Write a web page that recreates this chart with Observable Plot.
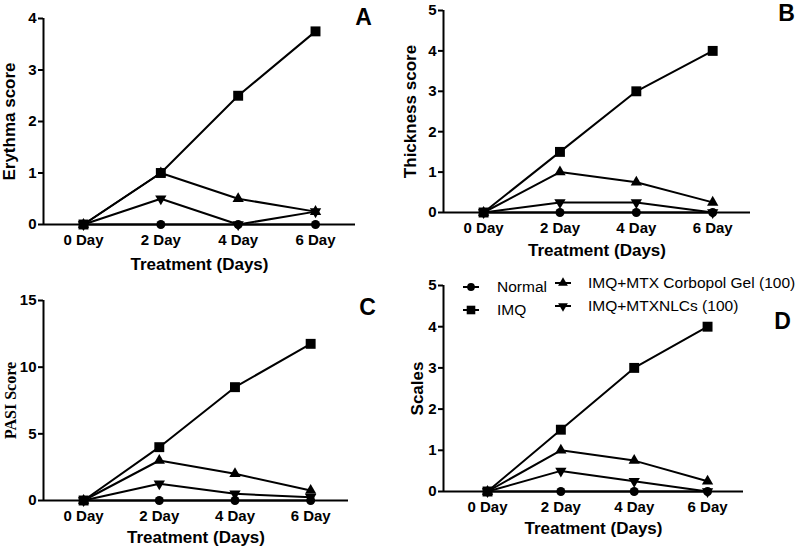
<!DOCTYPE html>
<html><head><meta charset="utf-8">
<script src="https://cdn.jsdelivr.net/npm/d3@7"></script>
<script src="https://cdn.jsdelivr.net/npm/@observablehq/plot@0.6"></script>
<style>
body{margin:0;background:#fff;}
#fig{position:relative;width:800px;height:549px;overflow:hidden;font-family:"Liberation Sans",Arial,sans-serif;background:#fff;}
.panel{position:absolute;}
.legsym{position:absolute;}
.legtxt{position:absolute;font-size:15.5px;color:#000;white-space:nowrap;line-height:18px;transform:translateY(-50%);}
</style></head><body><div id="fig"></div>
<script>
// ---- data ----
const days = [0, 2, 4, 6];
const dayLabels = ["0 Day", "2 Day", "4 Day", "6 Day"];
const seriesNames = ["Normal", "IMQ", "IMQ+MTX Corbopol Gel (100)", "IMQ+MTXNLCs (100)"];
// rows follow seriesNames order, columns follow days
const erythmaScore   = [[0,0,0,0],[0,1,2.5,3.75],[0,1,0.5,0.25],[0,0.5,0,0.25]];
const thicknessScore = [[0,0,0,0],[0,1.5,3,4],[0,1,0.75,0.25],[0,0.25,0.25,0]];
const pasiScore      = [[0,0,0,0],[0,4,8.5,11.75],[0,3,2,0.75],[0,1.25,0.5,0.25]];
const scalesScore    = [[0,0,0,0],[0,1.5,3,4],[0,1,0.75,0.25],[0,0.5,0.25,0]];
const yTicksA = [0,1,2,3,4];
const yTicksB = [0,1,2,3,4,5];
const yTicksC = [0,5,10,15];
const yTicksD = [0,1,2,3,4,5];
const yTitles = ["Erythma score", "Thickness score", "PASI Score", "Scales"];
const xTitle = "Treatment (Days)";
const panelLetters = ["A", "B", "C", "D"];

// ---- symbols ----
const sqrt3 = Math.sqrt(3);
const triangleDown = {
  draw(context, size) {
    const y = -Math.sqrt(size / (sqrt3 * 3));
    context.moveTo(0, -y * 2);
    context.lineTo(-sqrt3 * y, y);
    context.lineTo(sqrt3 * y, y);
    context.closePath();
  }
};
const symbols = [d3.symbolCircle, d3.symbolSquare, d3.symbolTriangle, triangleDown];
const radii = [4.5, 5.6, 4.2, 4.2];

const fig = document.getElementById("fig");

function makePanel(cfg) {
  const rows = [];
  seriesNames.forEach((s, i) => days.forEach((d, j) => rows.push({series: s, idx: i, day: d, value: cfg.values[i][j]})));
  const marks = [
    Plot.ruleY([0], {strokeWidth: 2}),
    Plot.ruleX([cfg.xDomain[0]], {strokeWidth: 2}),
    Plot.axisY({ticks: cfg.yTicks, tickSize: 5, tickPadding: 2, strokeWidth: 2, label: null, tickFormat: d => String(d)}),
    Plot.axisX({ticks: days, tickSize: 0, tickPadding: 10, label: null, tickFormat: d => dayLabels[days.indexOf(d)]}),
    Plot.line(rows, {x: "day", y: "value", z: "series", stroke: "black", strokeWidth: 2}),
    ...symbols.map((sym, i) => Plot.dot(rows.filter(r => r.idx === i), {x: "day", y: "value", symbol: sym, r: radii[i], fill: "black", stroke: "none"})),
    Plot.text([cfg.yTitle], {text: d => d, frameAnchor: "left", rotate: -90, dx: cfg.yTitleDx, textAnchor: "middle", lineAnchor: "middle", fontSize: cfg.yTitleSize, fontWeight: "bold", fontFamily: cfg.yTitleFont}),
    Plot.text([xTitle], {text: d => d, frameAnchor: "bottom", dy: cfg.xTitleDy, textAnchor: "middle", lineAnchor: "middle", fontSize: 17, fontWeight: "bold"}),
    Plot.text([cfg.letter], {text: d => d, frameAnchor: "top-right", dx: cfg.letterDx, dy: cfg.letterDy, textAnchor: "middle", lineAnchor: "middle", fontSize: 23, fontWeight: "bold"})
  ];
  const svg = Plot.plot({
    width: cfg.width, height: cfg.height,
    marginLeft: cfg.ml, marginRight: cfg.mr, marginTop: cfg.mt, marginBottom: cfg.mb,
    x: {domain: cfg.xDomain},
    y: {domain: cfg.yDomain},
    style: {fontFamily: "'Liberation Sans', Arial, sans-serif", fontSize: "15px", fontWeight: "bold", color: "black", background: "transparent", overflow: "visible"},
    marks
  });
  svg.classList.add("panel");
  svg.style.left = cfg.left + "px";
  svg.style.top = cfg.top + "px";
  svg.style.position = "absolute";
  fig.appendChild(svg);
}

const sansFont = "'Liberation Sans', Arial, sans-serif";
makePanel({values: erythmaScore, yTicks: yTicksA, yDomain: [0,4], xDomain: [-1.034, 7.034],
  left: 0, top: 0, width: 400, height: 275, ml: 43, mr: 45, mt: 18, mb: 51,
  yTitle: yTitles[0], yTitleDx: -34, yTitleSize: 17, yTitleFont: sansFont, xTitleDy: 40,
  letter: panelLetters[0], letterDx: 8, letterDy: -1});
makePanel({values: thicknessScore, yTicks: yTicksB, yDomain: [0,5], xDomain: [-1.05, 6.99],
  left: 400, top: 0, width: 400, height: 275, ml: 43, mr: 50, mt: 10, mb: 63,
  yTitle: yTitles[1], yTitleDx: -33, yTitleSize: 17, yTitleFont: sansFont, xTitleDy: 38,
  letter: panelLetters[1], letterDx: 36, letterDy: 3});
makePanel({values: pasiScore, yTicks: yTicksC, yDomain: [0,15], xDomain: [-1.06, 7.0],
  left: 0, top: 275, width: 400, height: 274, ml: 43, mr: 52, mt: 25, mb: 49,
  yTitle: yTitles[2], yTitleDx: -33, yTitleSize: 16, yTitleFont: "'Liberation Serif', 'Times New Roman', serif", xTitleDy: 37,
  letter: panelLetters[2], letterDx: 19, letterDy: 7});
makePanel({values: scalesScore, yTicks: yTicksD, yDomain: [0,5], xDomain: [-1.2, 6.98],
  left: 400, top: 275, width: 400, height: 274, ml: 43, mr: 57, mt: 10, mb: 58,
  yTitle: yTitles[3], yTitleDx: -26, yTitleSize: 17, yTitleFont: sansFont, xTitleDy: 37,
  letter: panelLetters[3], letterDx: 39, letterDy: 36});

// ---- legend (inside panel D) ----
const legendLayout = [
  {mx: 471, my: 287, tx: 497},
  {mx: 471, my: 310, tx: 497},
  {mx: 563, my: 283, tx: 588},
  {mx: 563, my: 306, tx: 588}
];
const legendSizes = radii.map(r => r * r * Math.PI * 0.75);
seriesNames.forEach((name, i) => {
  const L = legendLayout[i];
  const w = 18, h = 14;
  const s = d3.create("svg").attr("class", "legsym").attr("width", w).attr("height", h)
    .style("left", (L.mx - w / 2) + "px").style("top", (L.my - h / 2) + "px");
  s.append("line").attr("x1", 1).attr("x2", w - 1).attr("y1", h / 2).attr("y2", h / 2).attr("stroke", "black").attr("stroke-width", 2);
  s.append("path").attr("d", d3.symbol(symbols[i], legendSizes[i])()).attr("transform", `translate(${w / 2},${h / 2})`).attr("fill", "black");
  fig.appendChild(s.node());
  const t = document.createElement("div");
  t.className = "legtxt";
  t.textContent = name;
  t.style.left = L.tx + "px";
  t.style.top = L.my + "px";
  fig.appendChild(t);
});
</script>
</body></html>
